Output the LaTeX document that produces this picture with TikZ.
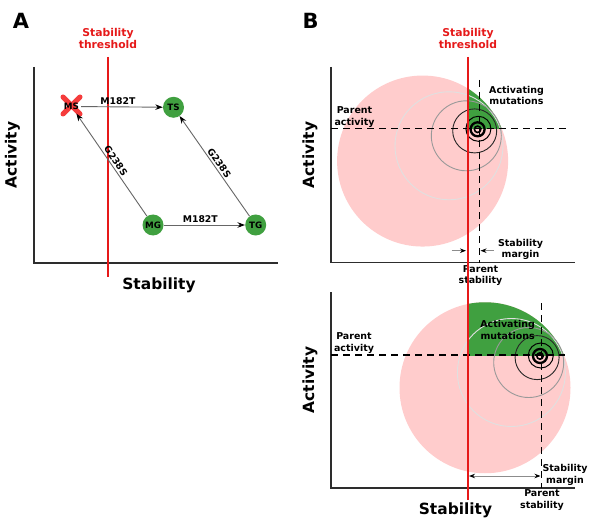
\documentclass[tikz,border=0pt]{standalone}
\usepackage{fontspec}
\setmainfont{DejaVu Sans}
\usetikzlibrary{arrows.meta}

\definecolor{threshred}{RGB}{230,25,25}
\definecolor{xred}{RGB}{245,60,60}
\definecolor{pinkc}{RGB}{255,204,204}
\definecolor{greenc}{RGB}{64,160,64}
\definecolor{axisc}{RGB}{45,45,45}

\newcommand{\fitnessrings}[2]{%
  \begin{scope}[shift={(#1,#2)}]
    \fill[pinkc] (-56.7,32.75) circle[radius=85.5bp];
    \begin{scope}
      \clip ({467.5-#1},-120) rectangle (120,0);
      \fill[greenc] (-56.7,32.75) circle[radius=85.5bp];
    \end{scope}
    \draw[ringA] (-30.3,17.5) circle[radius=54bp];
    \draw[ringB] (-13,7.5) circle[radius=35bp];
    \draw[ringC] (-4.6,2.6) circle[radius=22bp];
    \draw[ringD] (-0.9,0.5) circle[radius=12.5bp];
  \end{scope}}

\newcommand{\parentmark}[2]{%
  \begin{scope}[shift={(#1,#2)}]
    \draw[black, line width=2.3bp] (-1.7,1) circle[radius=7bp];
    \draw[black, line width=1.6bp] (-1.7,1) circle[radius=3.2bp];
  \end{scope}}

\begin{document}
\begin{tikzpicture}[x=1bp,y=-1bp,
  axis/.style={draw=axisc, line width=1.8bp},
  redthreshold/.style={draw=threshred, line width=2bp},
  thrtext/.style={text=threshred, font=\fontsize{10.8}{13}\selectfont\bfseries, align=center, inner sep=0pt},
  axlabel/.style={font=\fontsize{15.5}{18}\selectfont\bfseries, inner sep=0pt},
  panel/.style={font=\fontsize{21}{24}\selectfont\bfseries, inner sep=0pt},
  state/.style={circle, fill=greenc, minimum size=21bp, inner sep=0pt, font=\fontsize{8.8}{10}\selectfont\bfseries},
  mut/.style={draw=black!60, line width=0.9bp, -{Stealth[length=7.5bp,width=5.5bp,color=black]}},
  mutlabel/.style={font=\fontsize{9.3}{10}\selectfont\bfseries, inner sep=1pt},
  note/.style={font=\fontsize{9.5}{11.5}\selectfont\bfseries, align=center, inner sep=0pt},
  dashln/.style={draw=black, line width=1.3bp, dash pattern=on 7bp off 5bp},
  ringA/.style={draw=black!12, line width=0.9bp},
  ringB/.style={draw=black!40, line width=0.9bp},
  ringC/.style={draw=black!85, line width=0.9bp},
  ringD/.style={draw=black, line width=1bp},
  marg/.style={draw=black!45, line width=0.9bp, -{Stealth[length=6bp,width=4.5bp,color=black]}},
  margboth/.style={draw=black!45, line width=0.9bp, {Stealth[length=6bp,width=4.5bp,color=black]}-{Stealth[length=6bp,width=4.5bp,color=black]}},
]
\useasboundingbox[fill=white] (0,0) rectangle (600,527);

% ---------------- Panel A ----------------
\node[panel] (labA) at (21,20.5) {A};
\node[thrtext] (thrA) at (108,38.5) {Stability\\threshold};
\draw[axis] (34.3,67) -- (34.3,263) -- (278,263);
\node[axlabel, rotate=90] (actA) at (12.5,155) {Activity};
\node[axlabel] (stabA) at (159,285) {Stability};
\coordinate (tA1) at (108,57);
\coordinate (tA2) at (108,277);
\draw[redthreshold] (tA1) -- (tA2);

\draw[xred, line width=5bp, line cap=round] (63,97) -- (80,114);
\draw[xred, line width=5bp, line cap=round] (63,114) -- (80,97);
\node[font=\fontsize{8.8}{10}\selectfont\bfseries, inner sep=2pt] (MS) at (71.5,106.5) {MS};
\node[state] (TS) at (173.5,107.3) {TS};
\node[state] (MG) at (153,225) {MG};
\node[state] (TG) at (255.7,225) {TG};

\draw[mut] (MS) -- (TS) node[mutlabel, pos=0.45, above=0.5pt] (l1) {M182T};
\draw[mut] (MG) -- (TG) node[mutlabel, pos=0.45, above=0.5pt] (l2) {M182T};
\draw[mut, shorten >=2pt] (MG) -- (MS) node[mutlabel, midway, sloped, above=0.8pt] (l3) {G238S};
\draw[mut] (TG) -- (TS) node[mutlabel, midway, sloped, above=0.8pt] (l4) {G238S};

% ---------------- Panel B ----------------
\node[panel] (labB) at (310.5,20.5) {B};
\node[thrtext] (thrB) at (468,38.5) {Stability\\threshold};

% top plot
\fitnessrings{479.3}{128.3}
\draw[axis] (331,67) -- (331,262.5) -- (575,262.5);
\draw[dashln] (331,128.3) -- (567,128.3);
\draw[dashln] (479.3,80) -- (479.3,262.5);
\parentmark{479.3}{128.3}
\node[axlabel, rotate=90] (actB1) at (310,155) {Activity};
\node[note] (pa1) at (354.5,117) {Parent\\activity};
\node[note] (am1) at (516.5,95.5) {Activating\\mutations};
\node[note] (sm1) at (520.5,249.5) {Stability\\margin};
\node[note] (ps1) at (480.5,275.5) {Parent\\stability};
\coordinate (mA1) at (451.7,250.7);
\coordinate (mA2) at (466,250.7);
\coordinate (mB1) at (493.5,250.7);
\coordinate (mB2) at (480.5,250.7);
\draw[marg] (mA1) -- (mA2);
\draw[marg] (mB1) -- (mB2);

% bottom plot
\fitnessrings{541.7}{355}
\draw[axis] (331,292) -- (331,488) -- (575,488);
\draw[dashln] (331,355) -- (565,355);
\draw[dashln] (541.7,303) -- (541.7,488);
\parentmark{541.7}{355}
\node[axlabel, rotate=90] (actB2) at (310,380) {Activity};
\node[axlabel] (stabB) at (455.5,510) {Stability};
\node[note] (pa2) at (354,343) {Parent\\activity};
\node[note] (am2) at (507.6,330) {Activating\\mutations};
\node[note] (sm2) at (565,475) {Stability\\margin};
\node[note] (ps2) at (542,500) {Parent\\stability};
\coordinate (dm1) at (469,476);
\coordinate (dm2) at (540.5,476);
\draw[margboth] (dm1) -- (dm2);

% threshold line across panel B
\coordinate (tB1) at (467.5,57);
\coordinate (tB2) at (467.5,500);
\draw[redthreshold] (tB1) -- (tB2);
\end{tikzpicture}
\end{document}
